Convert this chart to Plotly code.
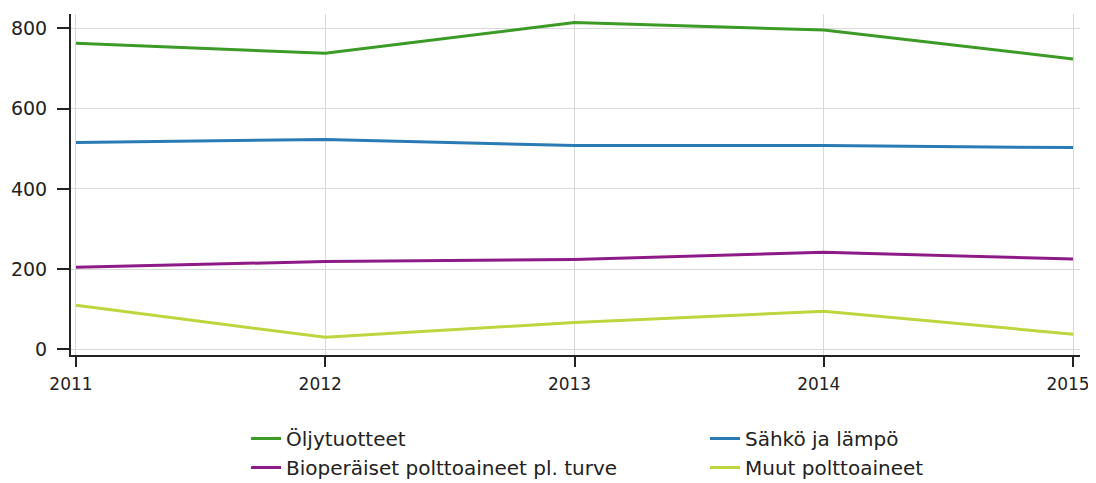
import plotly.graph_objects as go

years = [2011, 2012, 2013, 2014, 2015]
oljy = [763, 738, 815, 796, 724]
sahko = [516, 523, 508, 508, 503]
bio = [205, 219, 224, 242, 225]
muut = [110, 30, 67, 95, 38]

names = ["Öljytuotteet", "Sähkö ja lämpö", "Bioperäiset polttoaineet pl. turve", "Muut polttoaineet"]
colors = ["#3c9a26", "#2a7ab5", "#8e1a87", "#bcd63e"]
series = [oljy, sahko, bio, muut]
legend_ids = ["legend", "legend2", "legend", "legend2"]

fig = go.Figure()
for n, c, s, lg in zip(names, colors, series, legend_ids):
    fig.add_trace(go.Scatter(x=years, y=s, name=n, mode="lines", legend=lg,
                             line=dict(color=c, width=3)))

txt = "#222222"
legfont = dict(family="DejaVu Sans", size=20, color=txt)

# page body has an 8px margin, so the figure is sized to fit the 1096x483 window
fig.update_layout(
    width=1088, height=475,
    margin=dict(l=63, r=16, t=6, b=128, autoexpand=False),
    plot_bgcolor="white", paper_bgcolor="white",
    font=dict(family="DejaVu Sans", size=19, color=txt),
    showlegend=True,
    legend=dict(orientation="v", xref="container", yref="container",
                x=0.2188, xanchor="left", y=0.1347, yanchor="top",
                font=legfont, traceorder="normal", bgcolor="rgba(0,0,0,0)"),
    legend2=dict(orientation="v", xref="container", yref="container",
                 x=0.6406, xanchor="left", y=0.1347, yanchor="top",
                 font=legfont, traceorder="normal", bgcolor="rgba(0,0,0,0)"),
)
fig.update_xaxes(range=[2010.98, 2015.028], tickvals=years, ticktext=[str(y) for y in years],
                 tickfont=dict(size=17), ticklabeloverflow="allow", ticklabelshift=-5,
                 ticklabelstandoff=3,
                 showline=True, linecolor=txt, linewidth=2,
                 ticks="outside", ticklen=10, tickwidth=2, tickcolor=txt,
                 showgrid=True, gridcolor="#d9d9d9", gridwidth=1, zeroline=False,
                 automargin=False)
fig.update_yaxes(range=[-14, 836], tickvals=[0, 200, 400, 600, 800],
                 showline=True, linecolor=txt, linewidth=2,
                 ticks="outside", ticklen=12, tickwidth=2, tickcolor=txt,
                 ticklabelstandoff=6,
                 showgrid=True, gridcolor="#d9d9d9", gridwidth=1, zeroline=False,
                 automargin=False)

fig.write_html("out.html")
